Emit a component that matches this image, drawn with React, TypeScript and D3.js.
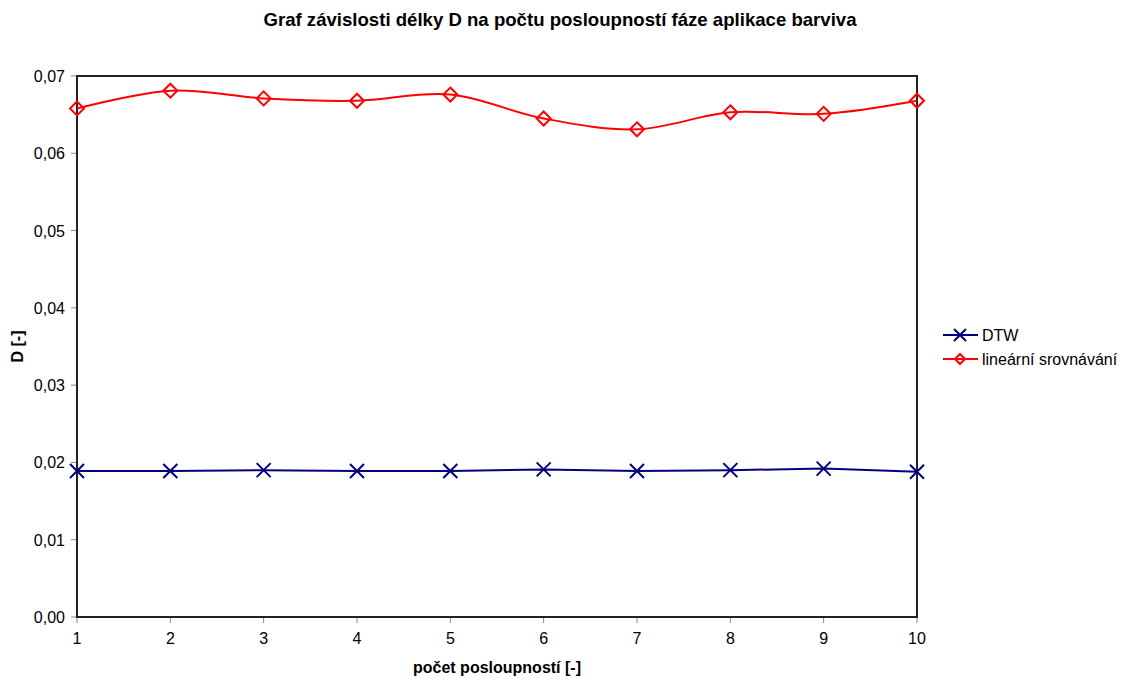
import React from "react";
import * as d3 from "d3";

const categories = [1, 2, 3, 4, 5, 6, 7, 8, 9, 10];
const dtw = [0.0189, 0.0189, 0.019, 0.0189, 0.0189, 0.0191, 0.0189, 0.019, 0.0192, 0.0188];
const linear = [0.0658, 0.0681, 0.0671, 0.0668, 0.0676, 0.0645, 0.0631, 0.0653, 0.0651, 0.0668];
const yTicks = [0, 0.01, 0.02, 0.03, 0.04, 0.05, 0.06, 0.07];
const seriesNames = ["DTW", "lineární srovnávání"];

const W = 1121, H = 679;
const L = 77, R = 917, T = 76, B = 617;
const FONT = "Liberation Sans, Arial, sans-serif";

export default function App() {
  const x = d3.scaleLinear().domain([1, 10]).range([L, R]);
  const y = d3.scaleLinear().domain([0, 0.07]).range([B, T]);
  const smooth = d3.line<number>().x((_, i) => x(categories[i])).y(d => y(d)).curve(d3.curveCatmullRom.alpha(0));
  const straight = d3.line<number>().x((_, i) => x(categories[i])).y(d => y(d));
  const fmt = (v: number) => v.toFixed(2).replace(".", ",");
  const cross = (cx: number, cy: number, s: number) => `M${cx - s},${cy - s}L${cx + s},${cy + s}M${cx - s},${cy + s}L${cx + s},${cy - s}`;
  const diamond = (cx: number, cy: number, s: number) => `M${cx},${cy - s}L${cx + s},${cy}L${cx},${cy + s}L${cx - s},${cy}Z`;
  const blue = "#000080", red = "#ff0000";
  return (
    <svg width={W} height={H} style={{ position: "absolute", left: 0, top: 0 }} fontFamily={FONT}>
      <rect width={W} height={H} fill="#fff" />
      <text x={560} y={26} textAnchor="middle" fontSize={18.6} fontWeight="bold">Graf závislosti délky D na počtu posloupností fáze aplikace barviva</text>
      {yTicks.map(t => (
        <g key={t}>
          <line x1={L - 6} x2={L} y1={y(t)} y2={y(t)} stroke="#888" />
          <text x={L - 12} y={y(t) + 6} textAnchor="end" fontSize={16}>{fmt(t)}</text>
        </g>
      ))}
      {categories.map(c => (
        <g key={c}>
          <line x1={x(c)} x2={x(c)} y1={B} y2={B + 6} stroke="#888" />
          <text x={x(c)} y={B + 27} textAnchor="middle" fontSize={16}>{c}</text>
        </g>
      ))}
      <rect x={L} y={T} width={R - L} height={B - T} fill="none" stroke="#222" strokeWidth={2} />
      <path d={straight(dtw) || ""} fill="none" stroke={blue} strokeWidth={2} />
      {dtw.map((v, i) => <path key={i} d={cross(x(categories[i]), y(v), 7)} stroke={blue} strokeWidth={2} fill="none" />)}
      <path d={smooth(linear) || ""} fill="none" stroke={red} strokeWidth={2} />
      {linear.map((v, i) => <path key={i} d={diamond(x(categories[i]), y(v), 7)} stroke={red} strokeWidth={2} fill="none" />)}
      <text transform={`translate(23,${(T + B) / 2}) rotate(-90)`} textAnchor="middle" fontSize={16} fontWeight="bold">D [-]</text>
      <text x={497} y={673} textAnchor="middle" fontSize={16} fontWeight="bold">počet posloupností [-]</text>
      <g>
        <line x1={943} x2={978} y1={335} y2={335} stroke={blue} strokeWidth={2} />
        <path d={cross(960, 335, 6)} stroke={blue} strokeWidth={2} fill="none" />
        <text x={982} y={341} fontSize={16}>{seriesNames[0]}</text>
        <line x1={943} x2={978} y1={359} y2={359} stroke={red} strokeWidth={2} />
        <path d={diamond(960, 359, 5)} stroke={red} strokeWidth={2} fill="none" />
        <text x={982} y={365} fontSize={16}>{seriesNames[1]}</text>
      </g>
    </svg>
  );
}
